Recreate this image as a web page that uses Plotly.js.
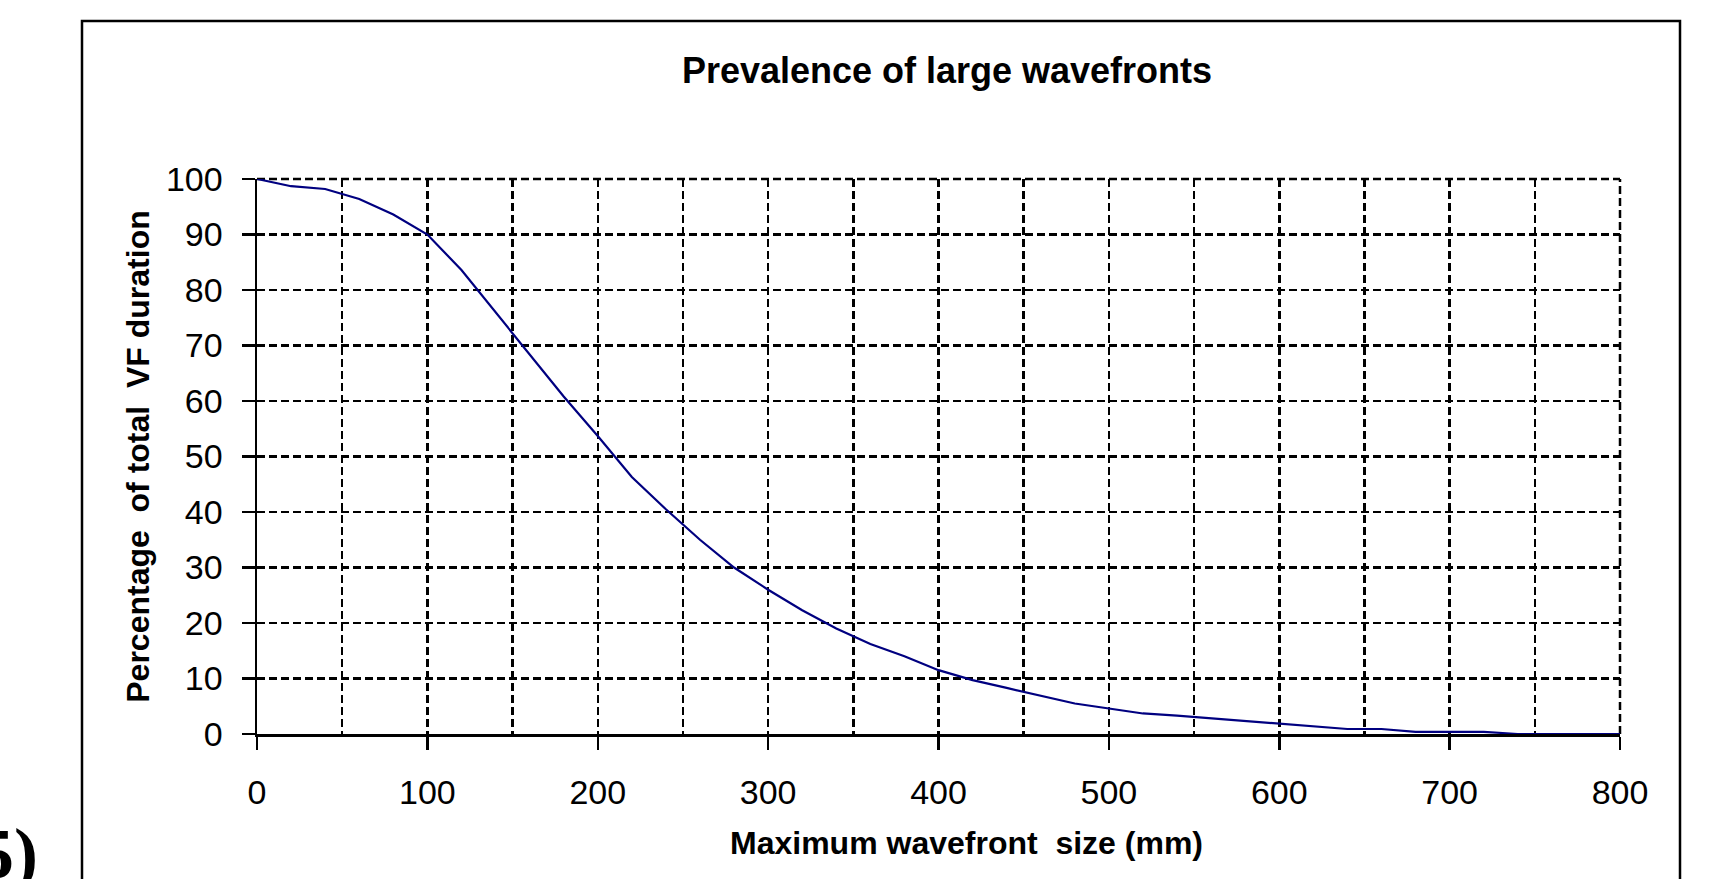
<!DOCTYPE html>
<html>
<head>
<meta charset="utf-8">
<script src="https://cdn.plot.ly/plotly-3.0.1.min.js"></script>
<style>
  html, body { margin: 0; padding: 0; background: #ffffff; }
  #chart { width: 1709px; height: 879px; }
</style>
</head>
<body>
<div id="chart"></div>
<script>
// Data
var wavefrontSize = [0, 20, 40, 60, 80, 100, 120, 140, 160, 180, 200, 220, 240, 260, 280, 300,
  320, 340, 360, 380, 400, 420, 440, 460, 480, 500, 520, 540, 560, 580, 600, 620, 640, 660,
  680, 700, 720, 740, 760, 780, 800];
var percentDuration = [100, 98.7, 98.2, 96.4, 93.6, 90.0, 83.6, 76.0, 68.5, 60.8, 53.7, 46.3,
  40.5, 35.0, 30.0, 26.0, 22.3, 19.0, 16.2, 14.0, 11.5, 9.7, 8.3, 6.9, 5.5, 4.6, 3.7, 3.3,
  2.8, 2.3, 1.8, 1.4, 0.9, 0.9, 0.4, 0.4, 0.4, 0, 0, 0, 0];
var chartTitle = 'Prevalence of large wavefronts';
var xTitle = 'Maximum wavefront  size (mm)';
var yTitle = 'Percentage  of total  VF duration';
var panelLabel = '5)';

var W = 1709, H = 879;
var mL = 257, mR = 89, mT = 179, mB = 145;
var pw = W - mL - mR, ph = H - mT - mB;
function px(x) { return (x - mL) / pw; }
function py(y) { return (H - mB - y) / ph; }

var font = 'Arial, "Liberation Sans", Helvetica, sans-serif';
var dashStyle = '8px,4px';
var gridW = 2.5;

var trace = {
  x: wavefrontSize,
  y: percentDuration,
  type: 'scatter',
  mode: 'lines',
  line: { color: '#000080', width: 2.2 },
  hoverinfo: 'x+y',
  cliponaxis: false
};

var layout = {
  width: W, height: H,
  margin: { l: mL, r: mR, t: mT, b: mB, pad: 0 },
  paper_bgcolor: '#ffffff',
  plot_bgcolor: '#ffffff',
  showlegend: false,
  font: { family: font, color: '#000000', size: 34 },
  title: {
    text: chartTitle,
    font: { family: font, size: 36, weight: 700, color: '#000000' },
    xref: 'paper', x: px(947), xanchor: 'center',
    yref: 'container', y: 1 - 70 / H, yanchor: 'middle'
  },
  xaxis: {
    range: [0, 800],
    tickmode: 'linear', tick0: 0, dtick: 100,
    ticks: 'outside', ticklen: 13, tickwidth: 2.5, tickcolor: '#000000',
    ticklabelstandoff: 14,
    tickfont: { family: font, size: 34, color: '#000000' },
    showline: true, linecolor: '#000000', linewidth: 2.5,
    zeroline: false,
    showgrid: true, gridcolor: '#000000', gridwidth: gridW, griddash: dashStyle,
    minor: { tickmode: 'linear', tick0: 0, dtick: 50, showgrid: true, gridcolor: '#000000', gridwidth: gridW, griddash: dashStyle, ticks: '' },
    fixedrange: true
  },
  yaxis: {
    range: [0, 100],
    tickmode: 'linear', tick0: 0, dtick: 10,
    ticks: 'outside', ticklen: 13, tickwidth: 2.5, tickcolor: '#000000',
    ticklabelstandoff: 12,
    tickfont: { family: font, size: 34, color: '#000000' },
    showline: true, linecolor: '#000000', linewidth: 2.5,
    zeroline: false,
    showgrid: true, gridcolor: '#000000', gridwidth: gridW, griddash: dashStyle,
    title: { text: yTitle, font: { family: font, size: 32, weight: 700, color: '#000000' }, standoff: 7 },
    fixedrange: true
  },
  shapes: [
    { type: 'rect', xref: 'paper', yref: 'paper', x0: px(82), x1: px(1680), y0: py(920), y1: py(21),
      line: { color: '#000000', width: 2.5 }, fillcolor: 'rgba(0,0,0,0)', layer: 'below' },
    { type: 'line', xref: 'paper', yref: 'paper', x0: 0, x1: 1, y0: 1, y1: 1,
      line: { color: '#000000', width: gridW, dash: dashStyle }, layer: 'below' },
    { type: 'line', xref: 'paper', yref: 'paper', x0: 1, x1: 1, y0: 0, y1: 1,
      line: { color: '#000000', width: gridW, dash: dashStyle }, layer: 'below' }
  ],
  annotations: [
    { text: xTitle, xref: 'paper', yref: 'paper', x: px(966), y: py(843), xanchor: 'center', yanchor: 'middle',
      showarrow: false, font: { family: font, size: 32, weight: 700, color: '#000000' } },
    { text: panelLabel, xref: 'paper', yref: 'paper', x: px(40), y: py(812), xanchor: 'right', yanchor: 'top',
      showarrow: false, font: { family: '"Liberation Serif", "Times New Roman", serif', size: 72, weight: 700, color: '#000000' } }
  ]
};

Plotly.newPlot('chart', [trace], layout, { displayModeBar: false, staticPlot: true });
</script>
</body>
</html>
